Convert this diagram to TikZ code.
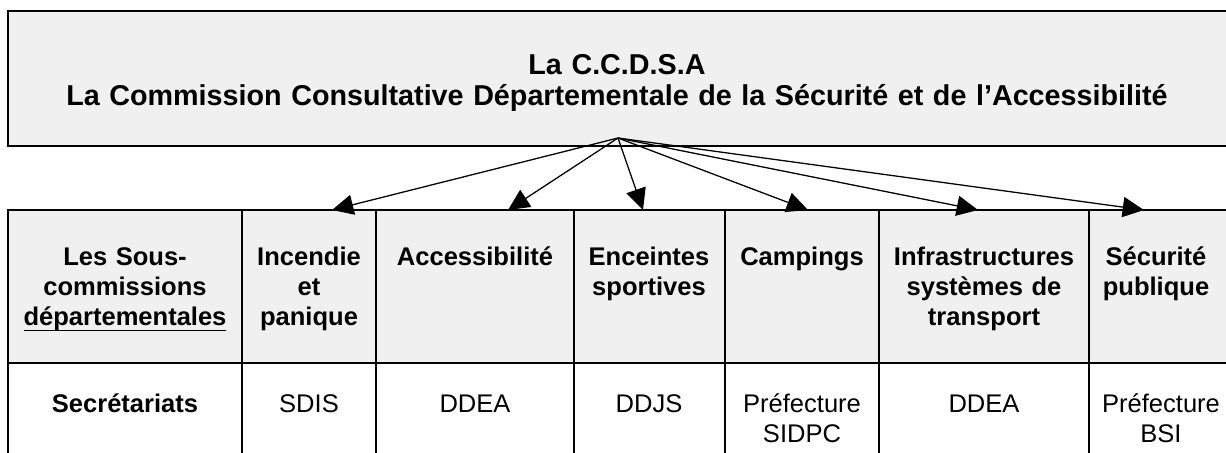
\documentclass[tikz,border=0pt]{standalone}
\usepackage{fontspec}
\setmainfont{Liberation Sans}
\usetikzlibrary{arrows.meta}
\definecolor{fondGris}{RGB}{240,240,240}
% soulignement proche de la ligne de base
\newcommand{\souligne}[1]{\underline{\smash{#1}\rule[-1.3pt]{0pt}{1.3pt}}}

\begin{document}
\begin{tikzpicture}[x=0.47pt, y=-0.47pt,
    font=\fontsize{12}{14.1}\selectfont,
    titre/.style={font=\bfseries\fontsize{13.5}{14.6}\selectfont, align=center, anchor=base, inner sep=0pt, text width=570pt},
    entete/.style={font=\bfseries\fontsize{12}{14.1}\selectfont, align=center, anchor=base, inner sep=0pt},
    cellule/.style={align=center, anchor=base, inner sep=0pt},
    trait/.style={line width=0.75pt},
    fleche/.style={-{Triangle[length=10pt,width=9.5pt]}, line width=0.6pt}]
    % Cadre de la page
    \useasboundingbox (0,0) rectangle (1226,452);
    \clip (0,0) rectangle (1226,452);

    % Positions des lignes du tableau
    \def\haut{210}  % haut du tableau
    \def\milieu{363} % separation des deux lignes
    \def\bas{480}   % bas (hors page)
    \def\droite{1240}

    % 1. CADRE DE LA COMMISSION
    \filldraw[fill=fondGris, trait] (8,11) rectangle (\droite,146);
    \node[titre] (ccdsa) at (617,74)
        {La C.C.D.S.A\\La Commission Consultative D\'epartementale de la S\'ecurit\'e et de l'Accessibilit\'e};

    % 2. TABLEAU DES SOUS-COMMISSIONS
    \fill[fondGris] (8,\haut) rectangle (\droite,\milieu);
    \draw[trait] (8,\bas) -- (8,\haut) -- (\droite,\haut);
    \draw[trait] (8,\milieu) -- (\droite,\milieu);
    \foreach \x in {242,376,574,725,879,1089}
        \draw[trait] (\x,\haut) -- (\x,\bas);

    % En-tetes (premiere ligne)
    \node[entete, text width=105pt] (sous) at (125,265) {Les Sous-\\commissions\\\souligne{d\'epartementales}};
    \node[entete, text width=60pt] (incendie) at (309,265) {Incendie\\et\\panique};
    \node[entete, text width=90pt] (access) at (475,265) {Accessibilit\'e};
    \node[entete, text width=68pt] (enceintes) at (649,265) {Enceintes\\sportives};
    \node[entete, text width=70pt] (campings) at (802,265) {Campings};
    \node[entete, text width=96pt] (infra) at (984,265) {Infrastructures\\syst\`emes de\\transport};
    \node[entete, text width=62pt] (securite) at (1156,265) {S\'ecurit\'e\\publique};

    % Secretariats (deuxieme ligne)
    \node[entete, text width=105pt] (secr) at (125,412) {Secr\'etariats};
    \node[cellule, text width=60pt] (sdis) at (309,412) {SDIS};
    \node[cellule, text width=90pt] (ddea) at (475,412) {DDEA};
    \node[cellule, text width=68pt] (ddjs) at (649,412) {DDJS};
    \node[cellule, text width=70pt] (sidpc) at (802,412) {Pr\'efecture\\SIDPC};
    \node[cellule, text width=96pt] (ddea2) at (984,412) {DDEA};
    \node[cellule, text width=62pt] (bsi) at (1161,412) {Pr\'efecture\\BSI};

    % 3. FLECHES
    \coordinate (depart) at (618,138);
    \foreach \nom/\x in {incendie/332, access/508, enceintes/643, campings/808, infra/978, securite/1144}
        \coordinate (f-\nom) at (\x,\haut);
    \foreach \nom in {incendie, access, enceintes, campings, infra, securite}
        \draw[fleche] (depart) -- (f-\nom);
\end{tikzpicture}
\end{document}
